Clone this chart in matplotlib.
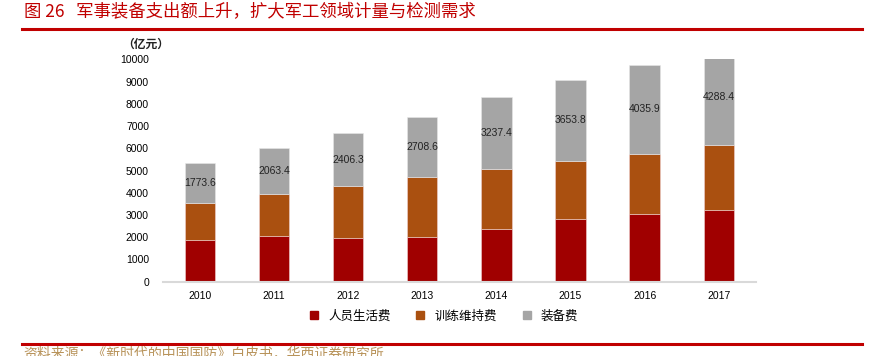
import numpy as np
import matplotlib.pyplot as plt
from matplotlib.lines import Line2D

plt.rcParams['font.family'] = ['Noto Sans CJK SC', 'DejaVu Sans']

years = ['2010', '2011', '2012', '2013', '2014', '2015', '2016', '2017']
personnel = [1859.3, 2065.4, 1955.8, 2002.3, 2372.5, 2818.6, 3060.7, 3210.4]  # 人员生活费
training = [1700.5, 1899.4, 2329.9, 2699.2, 2680.4, 2615.8, 2669.9, 2933.5]  # 训练维持费
equipment = [1773.6, 2063.4, 2406.3, 2708.6, 3237.4, 3653.8, 4035.9, 4288.4]  # 装备费
names = ['人员生活费', '训练维持费', '装备费']
colors = ['#A00000', '#AA5010', '#A5A5A5']

fig = plt.figure(figsize=(8.71, 3.56), dpi=100)
ax = fig.add_axes([0.187, 0.2087, 0.6807, 0.6247])

x = np.arange(len(years))
w = 0.41
b1 = np.array(personnel)
b2 = b1 + np.array(training)
ax.bar(x, personnel, w, color=colors[0], edgecolor='#f0d0d0', linewidth=0.4)
ax.bar(x, training, w, bottom=b1, color=colors[1], edgecolor='#f0d0d0', linewidth=0.4)
ax.bar(x, equipment, w, bottom=b2, color=colors[2], edgecolor='#e8e8e8', linewidth=0.4)

for i in range(len(years)):
    ax.text(x[i], b2[i] + equipment[i] / 2, '%.1f' % equipment[i], ha='center', va='center',
            fontsize=7.5, family='Liberation Sans', color='#222222')

ax.set_xlim(-0.5, len(years) - 0.5)
ax.set_ylim(0, 10000)
ax.set_yticks(np.arange(0, 10001, 1000))
ax.set_xticks(x)
ax.set_xticklabels(years)
for lab in ax.get_xticklabels() + ax.get_yticklabels():
    lab.set_family('Liberation Sans')
    lab.set_fontsize(7.5)
ax.tick_params(axis='both', length=0)
ax.tick_params(axis='x', pad=7)
ax.tick_params(axis='y', pad=10)
for s in ['top', 'right', 'left']:
    ax.spines[s].set_visible(False)
ax.spines['bottom'].set_color('#d9d9d9')
ax.spines['bottom'].set_linewidth(1.5)

handles = [Line2D([], [], marker='s', linestyle='', color=c, markersize=5.5) for c in colors]
fig.legend(handles, names, loc='center', bbox_to_anchor=(0.505, 0.112), ncol=3, frameon=False,
           fontsize=9, handletextpad=0.1, columnspacing=1.4)

fig.text(0.14, 0.876, '（亿元）', fontsize=8.5, fontweight='bold', va='center', ha='left', color='#222222')

fig.text(0.027, 0.966, '图 26   军事装备支出额上升，扩大军工领域计量与检测需求', fontsize=12.5,
         color='#C00000', va='center', ha='left')
fig.add_artist(Line2D([0.025, 0.99], [0.919, 0.919], color='#C00000', linewidth=2.2))
fig.add_artist(Line2D([0.025, 0.99], [0.035, 0.035], color='#C00000', linewidth=2.2))
fig.text(0.027, 0.008, '资料来源：《新时代的中国国防》白皮书，华西证券研究所', fontsize=10,
         color='#B8935A', va='center', ha='left')

fig.savefig('out.png', dpi=100)
